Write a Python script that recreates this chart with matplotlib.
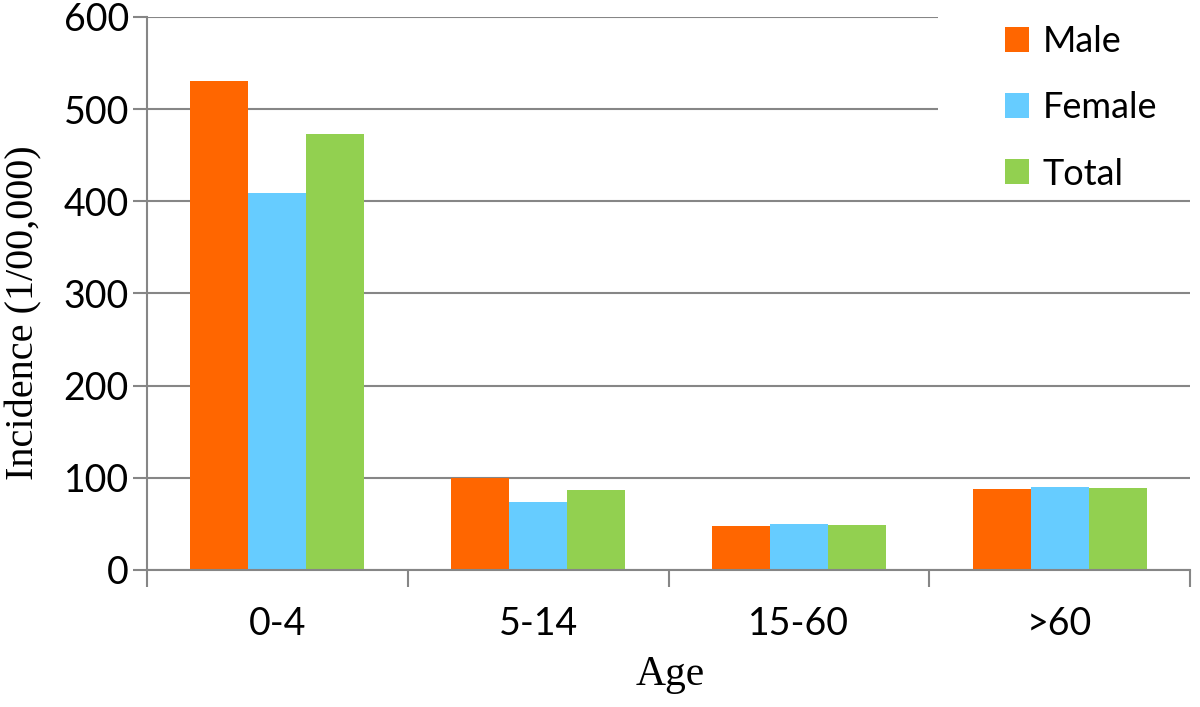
import matplotlib
matplotlib.use('Agg')
import matplotlib.pyplot as plt
from matplotlib.patches import Rectangle
import numpy as np

# data
age_groups = ['0-4', '5-14', '15-60', '>60']
male = [530, 100, 48, 88]
female = [409, 74, 50, 90]
total = [473, 87, 49, 89]

series = [('Male', male, '#FF6600'),
          ('Female', female, '#66CCFF'),
          ('Total', total, '#92D050')]

axis_gray = '#868686'
tick_font = 'Lato'
label_font = 'Liberation Serif'

fig = plt.figure(figsize=(12, 7.07), dpi=100)
ax = fig.add_axes([0.1225, 0.1938, 0.8692, 0.7822])

x = np.arange(len(age_groups)) + 0.5
width = 0.2225
for i, (name, vals, color) in enumerate(series):
    ax.bar(x + (i - 1) * width, vals, width, color=color, label=name, zorder=2)

ax.set_xlim(0, len(age_groups))
ax.set_ylim(0, 600)
ax.set_yticks(range(0, 601, 100))

# ticks at category boundaries, labels at centers
ax.set_xticks(np.arange(len(age_groups) + 1))
ax.set_xticklabels([])
ax.set_xticks(x, minor=True)
ax.set_xticklabels(age_groups, minor=True)
ax.tick_params(axis='x', which='major', length=12, width=1.5, color=axis_gray, direction='out')
ax.tick_params(axis='x', which='minor', length=0, pad=26)
ax.tick_params(axis='y', length=10, width=1.5, color=axis_gray, direction='out', pad=3)

for lab in ax.get_xticklabels(minor=True) + ax.get_yticklabels():
    lab.set_fontfamily(tick_font)
    lab.set_fontsize(27)

ax.yaxis.grid(True, color=axis_gray, linewidth=1.5, zorder=0)
ax.set_axisbelow(True)

for s in ['top', 'right']:
    ax.spines[s].set_visible(False)
for s in ['left', 'bottom']:
    ax.spines[s].set_color(axis_gray)
    ax.spines[s].set_linewidth(1.5)
ax.spines['bottom'].set_zorder(3)

ax.set_ylabel('Incidence (1/00,000)', fontsize=29, family=label_font)
ax.yaxis.set_label_coords(-0.10, 0.465)
ax.set_xlabel('Age', fontsize=30, family=label_font)
ax.xaxis.set_label_coords(0.502, -0.1555)

# white legend area hiding the upper gridlines
ax.add_patch(Rectangle((0.758, 0.72), 0.3, 0.35, transform=ax.transAxes,
                       facecolor='white', edgecolor='none', zorder=1, clip_on=False))

leg = ax.legend(loc='upper left', bbox_to_anchor=(0.805, 1.018),
                prop={'family': tick_font, 'size': 26},
                frameon=False, handlelength=0.68, handleheight=0.68,
                handletextpad=0.36, labelspacing=0.92, borderpad=0.5,
                borderaxespad=0)
leg.set_zorder(5)

plt.savefig('out.png', dpi=100, facecolor='white')
